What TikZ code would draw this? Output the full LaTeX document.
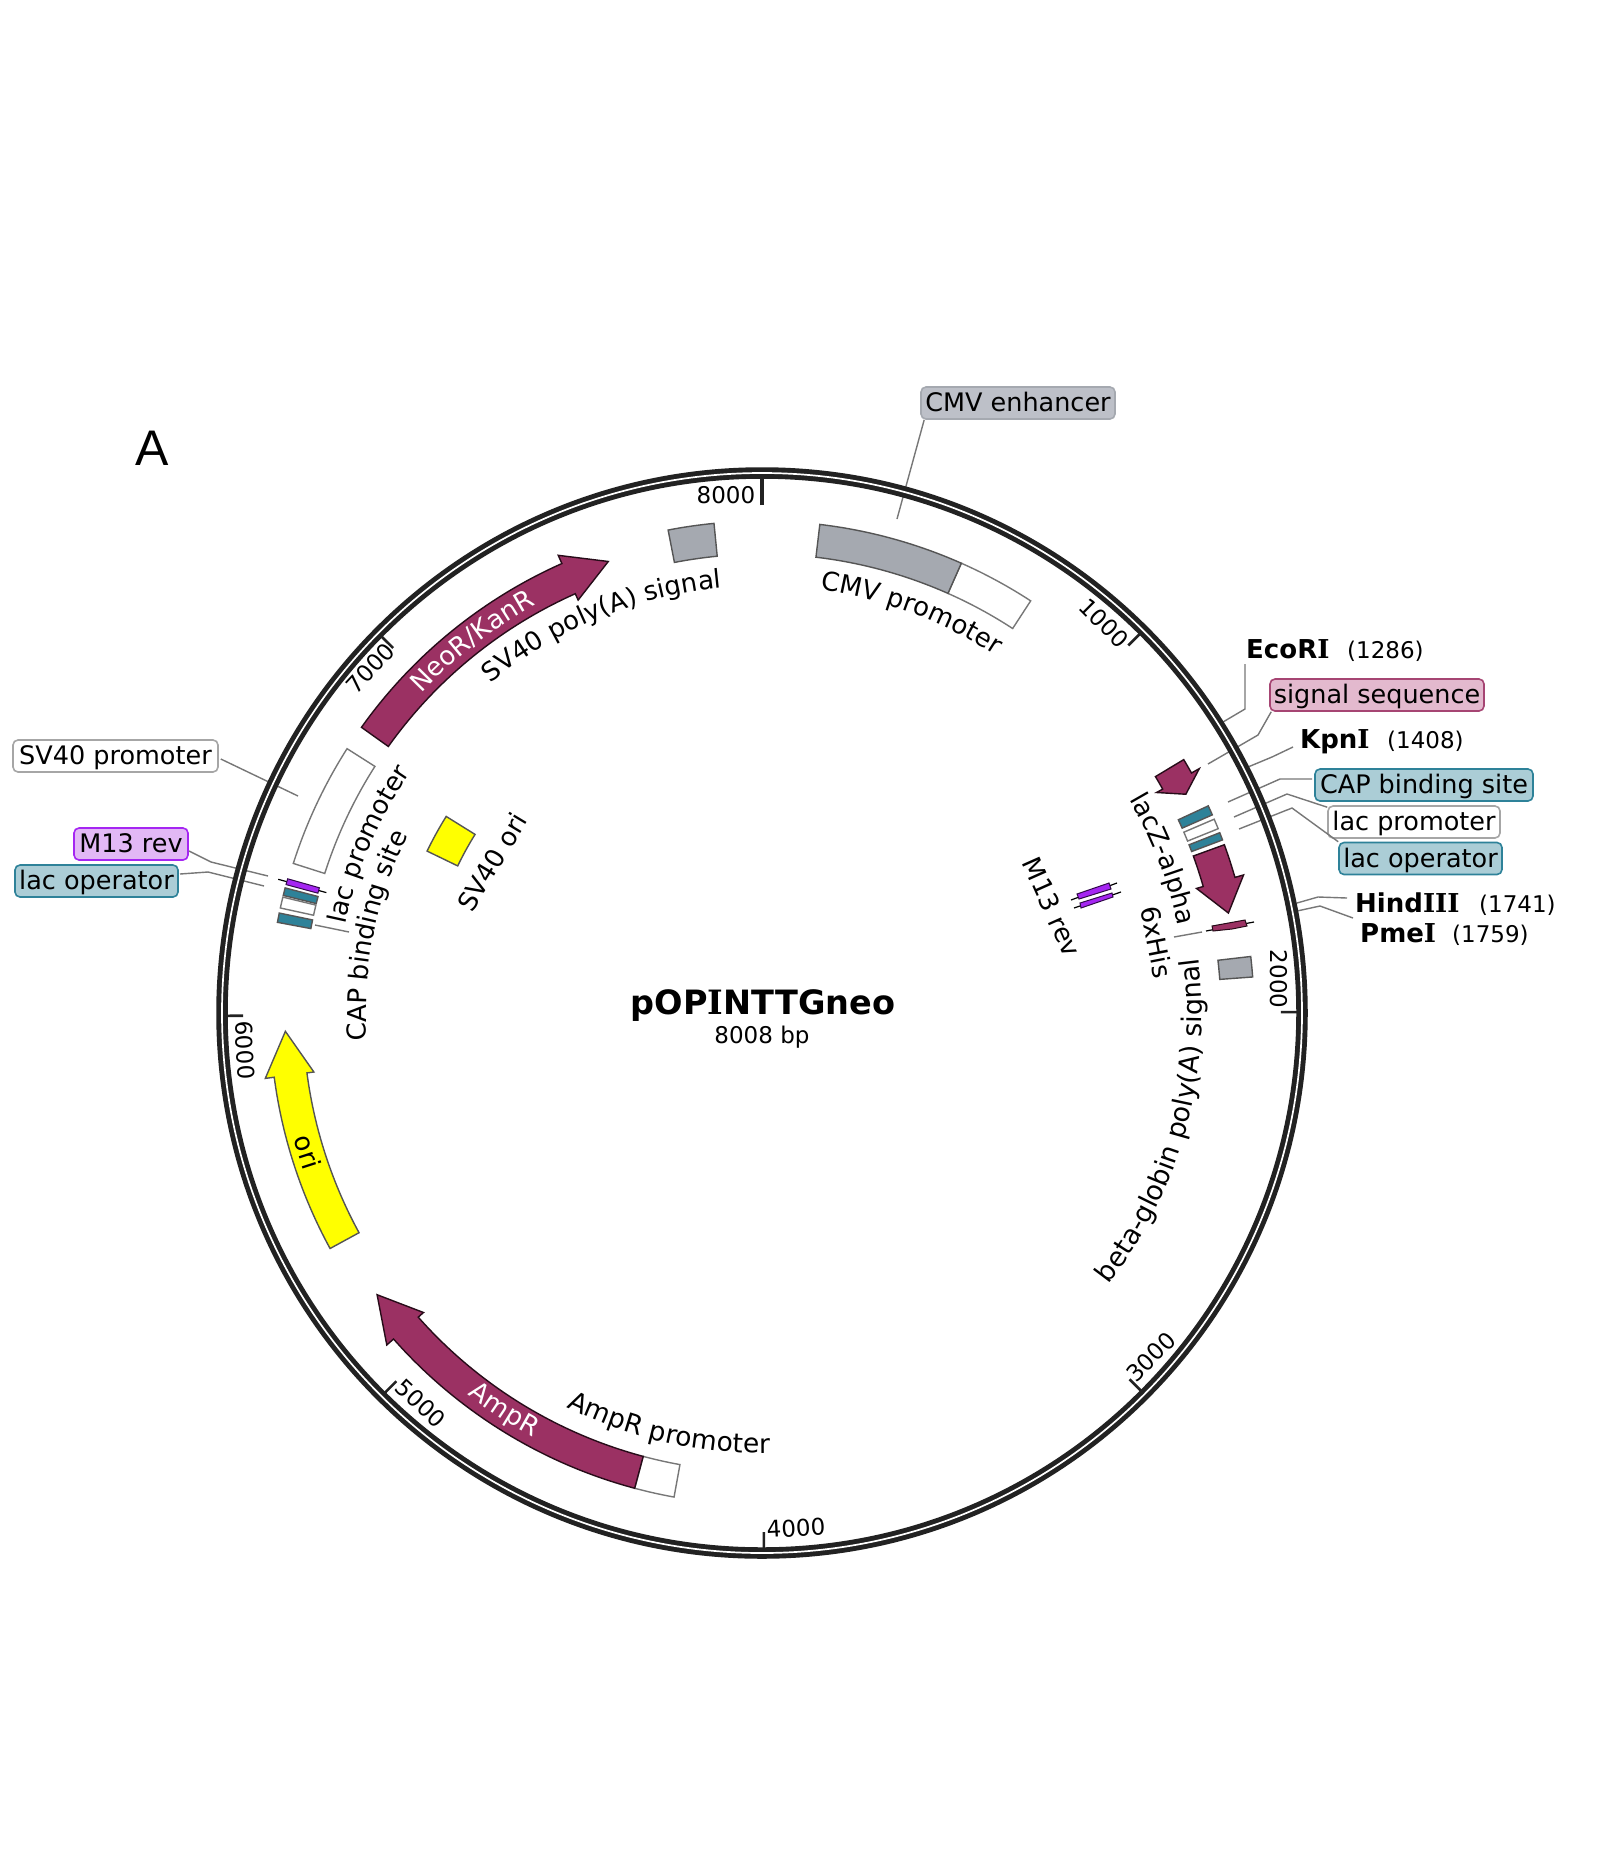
\documentclass[tikz,border=0pt]{standalone}
\usepackage{fontspec}
\setmainfont{DejaVu Sans}
\newfontfamily\afont{Liberation Sans}
\newfontfamily\serifI{DejaVu Serif}
\usetikzlibrary{decorations.text}
\definecolor{ring}{HTML}{222222}
\definecolor{maroon}{HTML}{9B3163}
\definecolor{grayf}{HTML}{A5A9B0}
\definecolor{tealf}{HTML}{2E8299}
\definecolor{purplef}{HTML}{A526F2}
\definecolor{leadc}{HTML}{777777}
\definecolor{edge}{HTML}{555555}
\definecolor{yellowf}{rgb}{1,1,0}
\definecolor{pinkf}{HTML}{E3B9CE}
\definecolor{bluef}{HTML}{ABCDD6}
\definecolor{greyf}{HTML}{BDC0C8}
\definecolor{violf}{HTML}{E2B8F5}
\newcommand{\lbl}{\fontsize{26}{28}\selectfont}
\newcommand{\lblb}{\fontsize{26.5}{28}\selectfont}
\newcommand{\lblc}{\fontsize{27}{28}\selectfont}
\newcommand{\wlbl}{\fontsize{26}{28}\selectfont\color{white}}
\newcommand{\tck}{\fontsize{23}{25}\selectfont}
\newcommand{\num}{\fontsize{23}{25}\selectfont}
\newcommand{\bI}{{\serifI\bfseries I}}
\newcommand{\arcbox}[5]{\draw[#5] ({90-(#1)}:#4) arc[start angle={90-(#1)},end angle={90-(#2)},radius=#4pt] -- ({90-(#2)}:#3) arc[start angle={90-(#2)},end angle={90-(#1)},radius=#3pt] -- cycle;}
\newcommand{\arcarrow}[4]{\draw[#4] ({90-(#1)}:492) arc[start angle={90-(#1)},end angle={90-(#2)},radius=492pt] -- ({90-(#2)}:501) -- ({90-(#3)}:477) -- ({90-(#2)}:452) -- ({90-(#2)}:459) arc[start angle={90-(#2)},end angle={90-(#1)},radius=459pt] -- cycle;}
\newcommand{\cwtext}[4]{\path[decorate,decoration={text along path,text align=center,text={|#4|#3}}] ({90-(#1)+50}:#2) arc[start angle={90-(#1)+50},end angle={90-(#1)-50},radius=#2pt];}
\newcommand{\ccwtext}[4]{\path[decorate,decoration={text along path,text align=center,text={|#4|#3}}] ({90-(#1)-50}:#2) arc[start angle={90-(#1)-50},end angle={90-(#1)+50},radius=#2pt];}
\newcommand{\rtick}[3]{\draw[ring,line width=#3] ({90-(#1)}:#2) -- ({90-(#1)}:536);}
\tikzset{
  feat/.style={draw=edge,line width=1.4pt,line join=miter},
  maroonf/.style={feat,fill=maroon,draw=black!75!maroon},
  grayb/.style={feat,fill=grayf},
  whiteb/.style={feat,fill=white,draw=edge!80!white},
  tealb/.style={feat,fill=tealf},
  yellowb/.style={feat,fill=yellowf},
  purpleb/.style={draw=black!70!purplef,line width=1pt,fill=purplef},
  lead/.style={draw=leadc,line width=1.4pt},
  tag/.style={rounded corners=5pt,line width=1.6pt,inner sep=0pt,font=\fontsize{25.5}{28}\selectfont,text height=21pt,text depth=4pt},
  pinkt/.style={tag,fill=pinkf,draw=maroon!85!pinkf},
  bluet/.style={tag,fill=bluef,draw=tealf},
  whitet/.style={tag,fill=white,draw=black!35},
  greyt/.style={tag,fill=greyf,draw=grayf},
  violt/.style={tag,fill=violf,draw=purplef},
  bname/.style={font=\lbl\bfseries,inner sep=0pt,anchor=base west},
  bnum/.style={font=\num,inner sep=0pt,anchor=base west},
  rtext/.style={font=\lbl,inner sep=0pt},
  ticktext/.style={font=\tck,inner sep=0pt},
}
\begin{document}
\begin{tikzpicture}[x=1pt,y=-1pt]
\useasboundingbox[fill=white] (0,0) rectangle (1618,1864);

% tag nodes and label nodes
\node[greyt,minimum width=194pt,minimum height=32pt] (tCMVe) at (1018,403) {CMV enhancer};
\node[pinkt,minimum width=214pt,minimum height=32pt] (tSig) at (1377,695) {signal sequence};
\node[bluet,minimum width=218pt,minimum height=32pt] (tCAP) at (1424,785) {CAP binding site};
\node[whitet,minimum width=172pt,minimum height=32pt] (tProm) at (1414,822) {lac promoter};
\node[bluet,minimum width=163pt,minimum height=32pt] (tOp) at (1420.5,858.5) {lac operator};
\node[whitet,minimum width=205pt,minimum height=32pt] (tSVp) at (115.5,756) {SV40 promoter};
\node[violt,minimum width=114pt,minimum height=32pt] (tM13) at (131,844) {M13 rev};
\node[bluet,minimum width=163pt,minimum height=32pt] (tOpL) at (96.5,881) {lac operator};

\node[bname] (nEco) at (1246,658) {EcoR\bI};
\node[bnum] (vEco) at (1347,658) {(1286)};
\node[bname] (nKpn) at (1300,748) {Kpn\bI};
\node[bnum] (vKpn) at (1387,748) {(1408)};
\node[bname] (nHind) at (1355,912) {Hind\bI\bI\bI};
\node[bnum] (vHind) at (1479,912) {(1741)};
\node[bname] (nPme) at (1360,942) {Pme\bI};
\node[bnum] (vPme) at (1452,942) {(1759)};

% leader ends
\coordinate (eCMV) at (897,519);
\coordinate (eEco) at (1223,722);
\coordinate (eSig) at (1208,764);
\coordinate (eKpn) at (1248,767);
\coordinate (eCAP) at (1228,802);
\coordinate (eProm) at (1234,817);
\coordinate (eOp) at (1239,829);
\coordinate (eHind) at (1297,903);
\coordinate (ePme) at (1297,911);
\coordinate (eSVp) at (298,796);
\coordinate (eM13) at (268,876);
\coordinate (eOpL) at (264,886);
\coordinate (sCAPl) at (315,925);
\coordinate (eCAPl) at (349,932);
\coordinate (sHis) at (1174,937);
\coordinate (eHis) at (1202,932);

\draw[lead] (tCMVe.south west) ++(4,0) -- (eCMV);
\draw[lead] (1245,664) -- (1245,709) -- (eEco);
\draw[lead] (tSig.south west) ++(2,0) -- (1258,735) -- (eSig);
\draw[lead] (1293,747) -- (1272,757) -- (eKpn);
\draw[lead] (tCAP.west) ++(-2,-6) -- (1280,779) -- (eCAP);
\draw[lead] (tProm.north west) ++(0,2) -- (1287,794) -- (eProm);
\draw[lead] (tOp.north west) -- (1292,808) -- (eOp);
\draw[lead] (1347,898) -- (1318,897) -- (eHind);
\draw[lead] (1353,918) -- (1320,906) -- (ePme);
\draw[lead] (tSVp.east) ++(2,3) -- (eSVp);
\draw[lead] (189,851) -- (211,862) -- (eM13);
\draw[lead] (180,874) -- (208,872) -- (eOpL);
\draw[lead] (sCAPl) -- (eCAPl);
\draw[lead] (sHis) -- (eHis);

\begin{scope}[shift={(762,1013)},y=1pt]
  % ring
  \draw[ring,line width=11.5pt] (0,0) circle[radius=540pt];
  \draw[white,line width=1.7pt] (0,0) circle[radius=540pt];
  % ticks
  \rtick{0}{508}{4.5pt}
  \rtick{44.9}{519}{2.6pt}
  \rtick{89.9}{519}{2.6pt}
  \rtick{134.9}{519}{2.6pt}
  \rtick{179.8}{519}{2.6pt}
  \rtick{224.8}{519}{2.6pt}
  \rtick{269.7}{519}{2.6pt}
  \rtick{314.7}{519}{2.6pt}

  % features
  \arcbox{-11}{-5.6}{459}{492}{grayb}
  \arcbox{23.9}{33.1}{459}{492}{whiteb}
  \arcbox{6.75}{23.9}{459}{492}{grayb}
  \arcarrow{-54.5}{-24}{-18.8}{maroonf}
  \arcbox{-72.3}{-57.5}{459}{492}{whiteb}
  \arcbox{190.3}{195}{459}{492}{whiteb}
  \draw[maroonf] ({90-195}:492) arc[start angle={90-195},end angle={90-228.5},radius=492pt] -- ({90-228.5}:501) -- ({90-233.8}:477) -- ({90-228.5}:452) -- ({90-228.5}:459) arc[start angle={90-228.5},end angle={90-195},radius=459pt] -- cycle;
  \draw[yellowb] ({90-241.4}:492) arc[start angle={90-241.4},end angle={90-262.5},radius=492pt] -- ({90-262.5}:501) -- ({90-267.8}:477) -- ({90-262.5}:452) -- ({90-262.5}:459) arc[start angle={90-262.5},end angle={90-241.4},radius=459pt] -- cycle;
  \arcbox{-64.2}{-58.1}{338}{372}{yellowb}
  % left cluster
  \arcbox{-79.4}{-78.3}{459}{493}{tealb}
  \arcbox{-77.7}{-76.4}{459}{493}{whiteb}
  \arcbox{-76.2}{-75.3}{459}{493}{tealb}
  \draw[black,line width=1.2pt] ({90+74.55}:452) -- ({90+74.55}:502);
  \arcbox{-74.9}{-74.2}{460}{493}{purpleb}
  % right cluster
  \arcarrow{59}{60.8}{62.7}{maroonf}
  \arcbox{65.1}{66.25}{459}{492}{tealb}
  \arcbox{66.8}{68}{459}{492}{whiteb}
  \arcbox{68.5}{69.4}{459}{492}{tealb}
  \arcarrow{70}{74}{77.9}{maroonf}
  \arcbox{83.4}{85.8}{459}{492}{grayb}

  % curved labels
  \cwtext{-22.4}{427}{SV40 poly(A) signal}{\lbl}
  \cwtext{20.5}{427}{CMV promoter}{\lbl}
  \cwtext{-37.9}{467}{NeoR/KanR}{\wlbl}
  \cwtext{69}{425}{lacZ-alpha}{\lbl}
  \cwtext{-78.7}{396}{CAP binding site}{\lbl}
  \cwtext{-66.8}{426}{lac promoter}{\lbl}
  \ccwtext{192.7}{440}{AmpR promoter}{\lblb}
  \ccwtext{213}{482}{AmpR}{\wlbl}
  \ccwtext{105.4}{440}{beta-globin poly(A) signal}{\lblc}
\end{scope}

% 6xHis and M13 rev marks
\draw[black,line width=1.2pt] (1206,931) -- (1254,922);
\draw[maroonf,line width=1pt] (1212,926) -- (1245,920) -- (1247,926) -- (1232,929) -- (1213,931) -- cycle;
\draw[black,line width=1.2pt] (1071,900) -- (1117,883);
\draw[purpleb] (1077,894) -- (1109,883) -- (1111,889) -- (1079,899) -- cycle;
\draw[black,line width=1.2pt] (1074,908) -- (1121,892);
\draw[purpleb] (1080,903) -- (1112,893) -- (1113,897) -- (1081,908) -- cycle;

% straight rotated labels
\node[rtext,rotate=-72] (lOri) at (308,1152) {ori};
\node[rtext,rotate=59] (lSVo) at (492,862) {SV40 ori};
\node[rtext,rotate=-66] (lM13) at (1052,907) {M13 rev};
\node[rtext,rotate=-79] (lHis) at (1157,942) {6xHis};

% scale numbers
\node[ticktext] (t8) at (726,495) {8000};
\node[ticktext,rotate=-45] (t1) at (1104,623) {1000};
\node[ticktext,rotate=-90] (t2) at (1279,979) {2000};
\node[ticktext,rotate=45] (t3) at (1151,1357) {3000};
\node[ticktext,rotate=3] (t4) at (796,1528) {4000};
\node[ticktext,rotate=-43] (t5) at (421,1403) {5000};
\node[ticktext,rotate=-87] (t6) at (245,1050) {6000};
\node[ticktext,rotate=47] (t7) at (370,668) {7000};

% centre title
\node[font=\fontsize{33.5}{36}\selectfont\bfseries,inner sep=0pt,anchor=base] (title) at (763,1014) {pOP\bI NTTGneo};
\node[font=\fontsize{23}{25}\selectfont,inner sep=0pt,anchor=base] (bp) at (762,1043) {8008 bp};
\node[font=\fontsize{50}{52}\selectfont\afont,inner sep=0pt,anchor=base] (panel) at (152,465) {A};
\end{tikzpicture}
\end{document}
